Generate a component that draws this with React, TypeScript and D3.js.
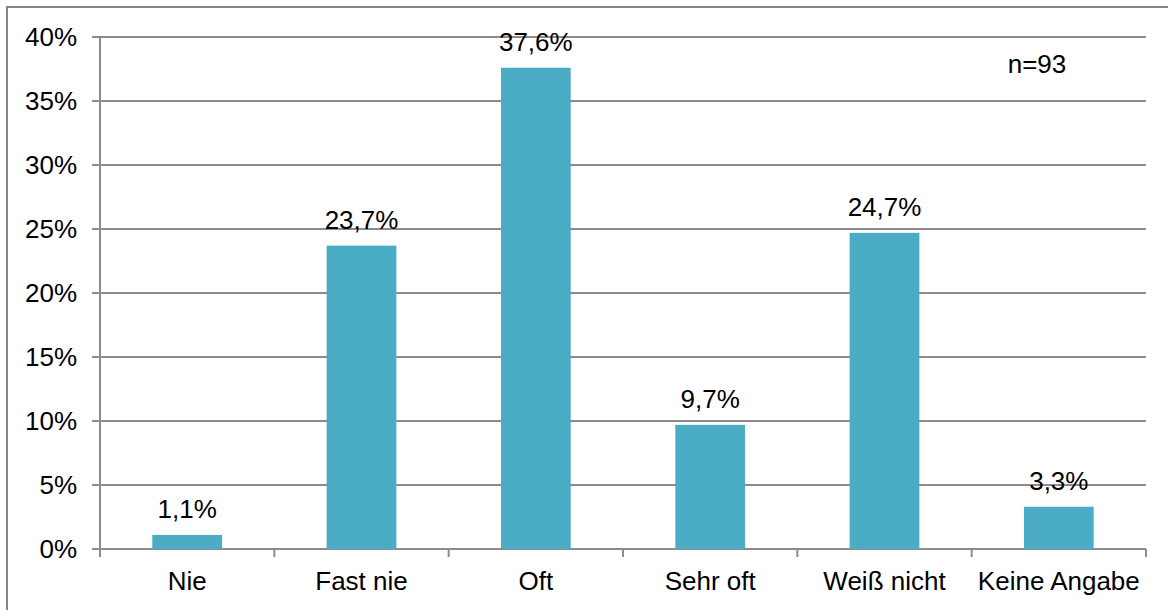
import React from "react";
import * as d3 from "d3";

const categories = ["Nie", "Fast nie", "Oft", "Sehr oft", "Weiß nicht", "Keine Angabe"];
const values = [1.1, 23.7, 37.6, 9.7, 24.7, 3.3];
const yTicks = [0, 5, 10, 15, 20, 25, 30, 35, 40];
const sampleNote = "n=93";

const W = 1168;
const H = 610;
const left = 100;
const right = 1146;
const top = 37;
const bottom = 549;
const font = "'Liberation Sans', Arial, sans-serif";
const fs = 26;
const grid = "#8c8c8c";
const barColor = "#4BACC6";

const fmt = (v: number) => v.toFixed(1).replace(".", ",") + "%";

export default function App() {
  const x = d3.scaleBand<string>().domain(categories).range([left, right]).paddingInner(0.6).paddingOuter(0.3);
  const band = d3.scaleBand<string>().domain(categories).range([left, right]);
  const y = d3.scaleLinear().domain([0, 40]).range([bottom, top]);

  return (
    <svg width={W} height={H} style={{ position: "absolute", left: 0, top: 0, background: "#fff" }}>
      <rect x={7} y={7} width={W + 10} height={H + 10} fill="#fff" stroke="#878787" strokeWidth={2} />
      {yTicks.map((t) => (
        <g key={t}>
          <line x1={92} x2={right} y1={y(t)} y2={y(t)} stroke={grid} strokeWidth={2} />
          <text x={77} y={y(t)} dy="0.36em" textAnchor="end" fontFamily={font} fontSize={fs} fill="#000">
            {t}%
          </text>
        </g>
      ))}
      <line x1={left} x2={left} y1={top} y2={bottom + 8} stroke={grid} strokeWidth={2} />
      {categories.map((c) => (
        <line
          key={"t" + c}
          x1={(band(c) as number) + band.bandwidth()}
          x2={(band(c) as number) + band.bandwidth()}
          y1={bottom}
          y2={bottom + 8}
          stroke={grid}
          strokeWidth={2}
        />
      ))}
      {categories.map((c, i) => {
        const bx = x(c) as number;
        const v = values[i];
        return (
          <g key={c}>
            <rect x={bx} y={y(v)} width={x.bandwidth()} height={bottom - y(v)} fill={barColor} />
            <text
              x={bx + x.bandwidth() / 2}
              y={y(v) - 17}
              textAnchor="middle"
              fontFamily={font}
              fontSize={fs}
              fill="#000"
            >
              {fmt(v)}
            </text>
            <text
              x={(band(c) as number) + band.bandwidth() / 2}
              y={590}
              textAnchor="middle"
              fontFamily={font}
              fontSize={fs}
              fill="#000"
            >
              {c}
            </text>
          </g>
        );
      })}
      <text x={1037} y={73} textAnchor="middle" fontFamily={font} fontSize={fs} fill="#000">
        {sampleNote}
      </text>
    </svg>
  );
}
